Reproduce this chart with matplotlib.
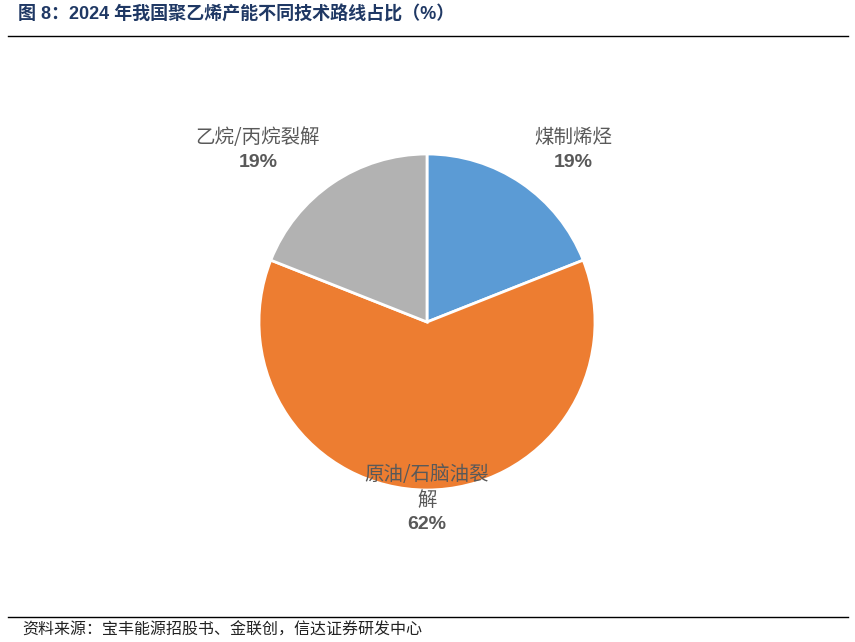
import matplotlib.pyplot as plt
from matplotlib.lines import Line2D

plt.rcParams['font.family'] = ['Liberation Sans', 'Noto Sans CJK SC', 'DejaVu Sans']

# 数据
kategori = ['煤制烯烃', '原油/石脑油裂解', '乙烷/丙烷裂解']
nilai = [19, 62, 19]
warna = ['#5B9BD5', '#ED7D31', '#B2B2B2']
label_teks = ['煤制烯烃', '原油/石脑油裂\n解', '乙烷/丙烷裂解']
# posisi label (unit data, radius pie = 1): nama dan persen
pos_nama = [(0.869, 1.101), (0.0, -0.985), (-1.006, 1.101)]
pos_persen = [(0.869, 0.952), (0.0, -1.208), (-1.006, 0.952)]

fig = plt.figure(figsize=(8.55, 6.42), dpi=100)

# pie
ax = fig.add_axes([427/855 - 168/855, 1 - (322 + 168)/642, 336/855, 336/642])
ax.pie(nilai, colors=warna, startangle=90, counterclock=False,
       wedgeprops=dict(edgecolor='white', linewidth=2), radius=1)
ax.set_xlim(-1, 1)
ax.set_ylim(-1, 1)
ax.set_aspect('equal')
ax.axis('off')

for teks, v, (xn, yn), (xp, yp) in zip(label_teks, nilai, pos_nama, pos_persen):
    ax.text(xn, yn, teks, ha='center', va='center', fontsize=14, color='#595959',
            family=['Noto Sans CJK SC'], fontweight='medium', linespacing=1.3, clip_on=False)
    ax.text(xp, yp, f'{v}%', ha='center', va='center', fontsize=14, color='#595959',
            fontweight='bold', clip_on=False)

# judul
fig.text(18/855, 1 - 15/642, '图 8：2024 年我国聚乙烯产能不同技术路线占比（%）',
         ha='left', va='center', fontsize=13, fontweight='bold', color='#1F3864')
fig.add_artist(Line2D([8/855, 848/855], [1 - 36/642, 1 - 36/642], color='black', linewidth=1))

# sumber
fig.add_artist(Line2D([8/855, 848/855], [1 - 617/642, 1 - 617/642], color='black', linewidth=1))
fig.text(22/855, 1 - 630/642, '资料来源：宝丰能源招股书、金联创，信达证券研发中心',
         ha='left', va='center', fontsize=11.5, color='#222222', style='italic',
         family=['Noto Sans CJK SC'])

fig.savefig('out.png', dpi=100)
